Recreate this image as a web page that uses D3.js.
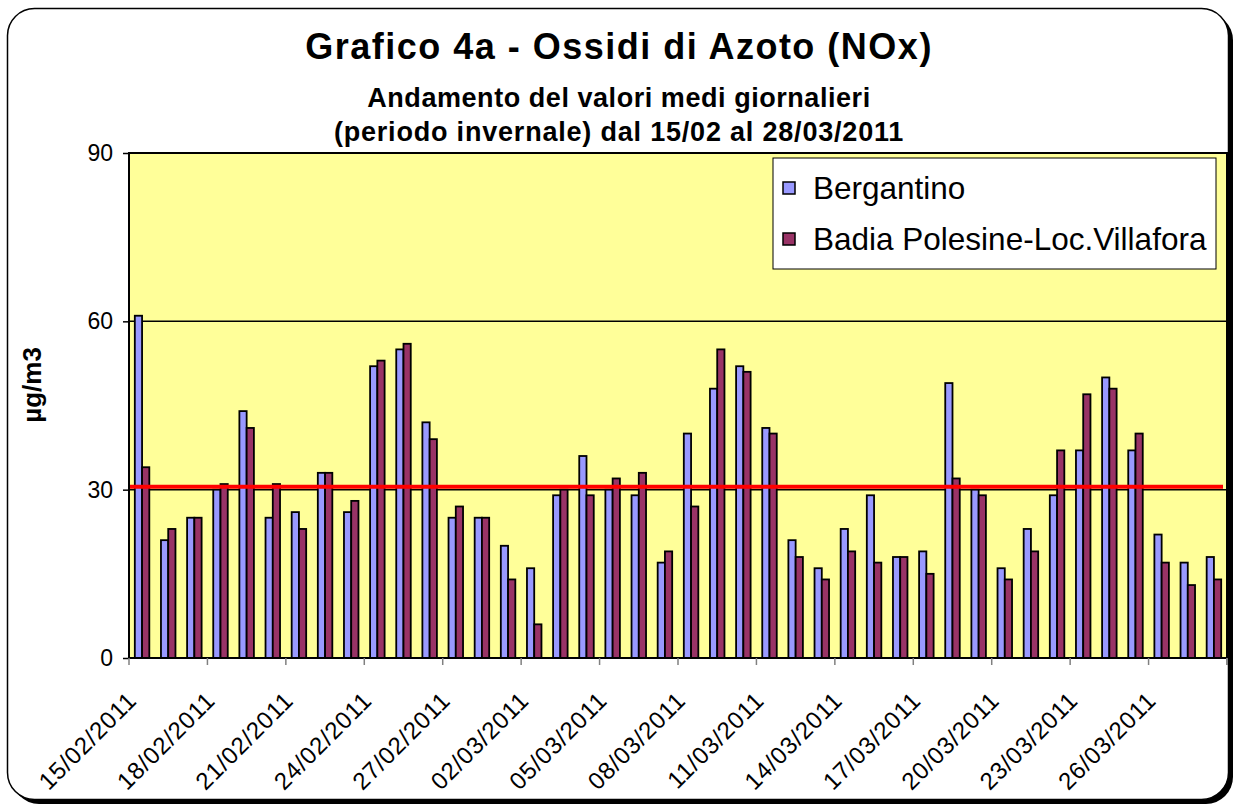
<!DOCTYPE html>
<html>
<head>
<meta charset="utf-8">
<script src="https://cdn.jsdelivr.net/npm/d3@7"></script>
<style>
  html, body { margin: 0; padding: 0; background: #ffffff; }
  svg { display: block; font-family: Arial, "Liberation Sans", sans-serif; }
</style>
</head>
<body>
<svg id="chart" width="1235" height="807"></svg>
<script>
const categories = [
  "15/02/2011","16/02/2011","17/02/2011","18/02/2011","19/02/2011","20/02/2011","21/02/2011",
  "22/02/2011","23/02/2011","24/02/2011","25/02/2011","26/02/2011","27/02/2011","28/02/2011",
  "01/03/2011","02/03/2011","03/03/2011","04/03/2011","05/03/2011","06/03/2011","07/03/2011",
  "08/03/2011","09/03/2011","10/03/2011","11/03/2011","12/03/2011","13/03/2011","14/03/2011",
  "15/03/2011","16/03/2011","17/03/2011","18/03/2011","19/03/2011","20/03/2011","21/03/2011",
  "22/03/2011","23/03/2011","24/03/2011","25/03/2011","26/03/2011","27/03/2011","28/03/2011"
];
const seriesNames = ["Bergantino", "Badia Polesine-Loc.Villafora"];
const bergantino = [61,21,25,30,44,25,26,33,26,52,55,42,25,25,20,16,29,36,30,29,17,40,48,52,41,21,16,23,29,18,19,49,30,16,23,29,37,50,37,22,17,18];
const badia      = [34,23,25,31,41,31,23,33,28,53,56,39,27,25,14,6,30,29,32,33,19,27,55,51,40,18,14,19,17,18,15,32,29,14,19,37,47,48,40,17,13,14];
const yTicks = [0, 30, 60, 90];
const xTickLabels = ["15/02/2011","18/02/2011","21/02/2011","24/02/2011","27/02/2011","02/03/2011","05/03/2011","08/03/2011","11/03/2011","14/03/2011","17/03/2011","20/03/2011","23/03/2011","26/03/2011"];
const limitValue = 30.5;
const titleLines = ["Grafico 4a - Ossidi di Azoto (NOx)", "Andamento del valori medi giornalieri", "(periodo invernale) dal 15/02 al 28/03/2011"];
const yAxisTitle = "µg/m3";

const colors = ["#9999FF", "#993366"];

const svg = d3.select("#chart");
const plot = {left: 129, right: 1227, top: 153, bottom: 658};

// Frame with shadow
svg.append("rect").attr("x", 12).attr("y", 13).attr("width", 1221).attr("height", 791)
  .attr("rx", 27).attr("ry", 27).attr("fill", "#000");
svg.append("rect").attr("x", 7.5).attr("y", 8.5).attr("width", 1221).attr("height", 791)
  .attr("rx", 27).attr("ry", 27).attr("fill", "#fff").attr("stroke", "#000").attr("stroke-width", 1.5);

// Scales
const x = d3.scaleBand().domain(categories).range([plot.left, plot.right])
  .paddingInner(0.445).paddingOuter(0.2225);
const xs = d3.scaleBand().domain(seriesNames).range([0, x.bandwidth()]);
const y = d3.scaleLinear().domain([0, 90]).range([plot.bottom, plot.top]);
const step = x.step();
const x0 = plot.left;

// Plot background
svg.append("rect").attr("x", plot.left).attr("y", plot.top)
  .attr("width", plot.right - plot.left).attr("height", plot.bottom - plot.top)
  .attr("fill", "#FFFF99");

// Gridlines
svg.append("g").selectAll("line").data(yTicks.filter(d => d > 0 && d < 90)).join("line")
  .attr("x1", plot.left).attr("x2", plot.right)
  .attr("y1", d => y(d)).attr("y2", d => y(d))
  .attr("stroke", "#000").attr("stroke-width", 1.5);

// Bars
const data = categories.map((c, i) => ({cat: c, vals: [bergantino[i], badia[i]]}));
const g = svg.append("g");
g.selectAll("g").data(data).join("g")
  .attr("transform", d => `translate(${x(d.cat)},0)`)
  .selectAll("rect").data(d => d.vals.map((v, k) => ({k, v}))).join("rect")
  .attr("x", d => xs(seriesNames[d.k]))
  .attr("y", d => y(d.v))
  .attr("width", xs.bandwidth())
  .attr("height", d => y(0) - y(d.v))
  .attr("fill", d => colors[d.k])
  .attr("stroke", "#000").attr("stroke-width", 1.8);

// Limit line
svg.append("line").attr("x1", plot.left).attr("x2", plot.right - 4)
  .attr("y1", y(limitValue)).attr("y2", y(limitValue))
  .attr("stroke", "#FF0000").attr("stroke-width", 4);

// Plot border
svg.append("rect").attr("x", plot.left).attr("y", plot.top)
  .attr("width", plot.right - plot.left).attr("height", plot.bottom - plot.top)
  .attr("fill", "none").attr("stroke", "#000").attr("stroke-width", 2);

// Y axis
const yAxis = d3.axisLeft(y).tickValues(yTicks).tickSize(6).tickPadding(10);
const yg = svg.append("g").attr("transform", `translate(${plot.left},0)`).call(yAxis);
yg.select(".domain").remove();
yg.selectAll(".tick line").attr("stroke", "#000").attr("stroke-width", 1.5);
yg.selectAll(".tick text").attr("font-size", 23).attr("fill", "#000")
  .attr("font-family", "Arial, 'Liberation Sans', sans-serif");

// X ticks (category boundaries every 3 days, plus the end)
const tickIdx = d3.range(0, categories.length + 1, 3).concat([categories.length]);
svg.append("g").selectAll("line").data(tickIdx).join("line")
  .attr("x1", i => x0 + i * step).attr("x2", i => x0 + i * step)
  .attr("y1", plot.bottom).attr("y2", plot.bottom + 7)
  .attr("stroke", "#808080").attr("stroke-width", 1.5);

// X labels
svg.append("g").selectAll("text").data(xTickLabels).join("text")
  .attr("transform", d => {
    const i = categories.indexOf(d);
    const tx = x0 + i * step + 9;
    const ty = plot.bottom + 44;
    return `translate(${tx},${ty}) rotate(-45)`;
  })
  .attr("text-anchor", "end")
  .attr("font-size", 24)
  .attr("letter-spacing", 0.8)
  .attr("fill", "#000")
  .text(d => d);

// Titles
const tAttrs = [
  {y: 59, size: 36, ls: 1.5},
  {y: 107, size: 27, ls: 0.55},
  {y: 141, size: 27, ls: 0.8}
];
svg.append("g").selectAll("text").data(titleLines).join("text")
  .attr("x", 619).attr("y", (d, i) => tAttrs[i].y)
  .attr("text-anchor", "middle").attr("font-weight", "bold")
  .attr("font-size", (d, i) => tAttrs[i].size)
  .attr("letter-spacing", (d, i) => tAttrs[i].ls)
  .attr("fill", "#000")
  .text(d => d);

// Y axis title
svg.append("text").attr("transform", "translate(41,385) rotate(-90)")
  .attr("text-anchor", "middle").attr("font-weight", "bold").attr("font-size", 26)
  .attr("fill", "#000").text(yAxisTitle);

// Legend
const lg = svg.append("g");
lg.append("rect").attr("x", 773).attr("y", 158).attr("width", 443).attr("height", 111)
  .attr("fill", "#fff").attr("stroke", "#000").attr("stroke-width", 1);
const legY = [188, 239];
seriesNames.forEach((name, k) => {
  lg.append("rect").attr("x", 783).attr("y", legY[k] - 6).attr("width", 12).attr("height", 12)
    .attr("fill", colors[k]).attr("stroke", "#000").attr("stroke-width", 1.5);
  lg.append("text").attr("x", 813).attr("y", legY[k] + 11)
    .attr("font-size", 31.5).attr("fill", "#000").text(name);
});
</script>
</body>
</html>
